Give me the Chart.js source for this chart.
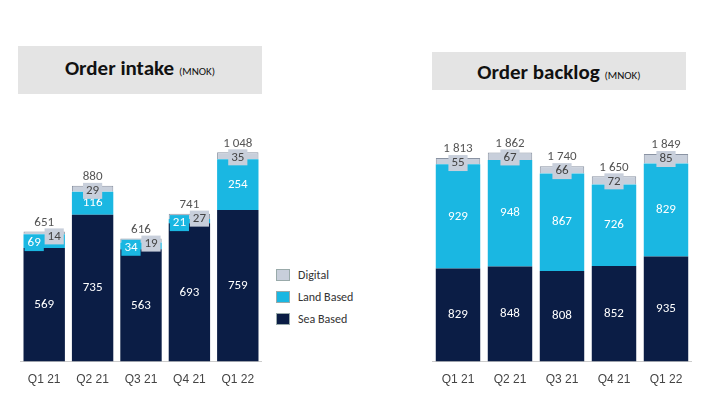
<!DOCTYPE html>
<html>
<head>
<meta charset="UTF-8">
<script src="https://cdn.jsdelivr.net/npm/chart.js"></script>
<style>
  body { margin:0; width:706px; height:404px; background:#fff; font-family:Calibri,'Open Sans',sans-serif; position:relative; overflow:hidden; }
  .title { position:absolute; background:#e4e4e4; color:#111; font-weight:bold; font-size:21px; text-align:center; line-height:44px; }
  .title small { font-size:11px; font-weight:normal; }
  .wrap { position:absolute; }
  .legend { position:absolute; left:276px; top:264px; font-size:12px; color:#333; }
  .legend div { height:22px; display:flex; align-items:center; }
  .legend span { width:14px; height:12px; margin-right:8px; border:1px solid #9aa; box-sizing:border-box; }
</style>
</head>
<body>
<div class="title" style="left:18px;top:46px;width:244px;">Order intake <small>(MNOK)</small></div>
<div class="title" style="left:432px;top:52px;width:254px;height:38px;line-height:40px;">Order backlog <small>(MNOK)</small></div>
<div class="wrap" style="left:20px;top:100px;width:242px;height:290px;"><canvas id="intake"></canvas></div>
<div class="wrap" style="left:432px;top:100px;width:260px;height:290px;"><canvas id="backlog"></canvas></div>
<div class="legend">
  <div><span style="background:#c8cfdb"></span>Digital</div>
  <div><span style="background:#1ab7e2"></span>Land Based</div>
  <div><span style="background:#0b1d45"></span>Sea Based</div>
</div>
<script>
const quarters = ['Q1 21', 'Q2 21', 'Q3 21', 'Q4 21', 'Q1 22'];
const intakeSea = [569, 735, 563, 693, 759];
const intakeLand = [69, 116, 34, 21, 254];
const intakeDigital = [14, 29, 19, 27, 35];
const intakeTotal = [651, 880, 616, 741, 1048];
const backlogSea = [829, 848, 808, 852, 935];
const backlogLand = [929, 948, 867, 726, 829];
const backlogDigital = [55, 67, 66, 72, 85];
const backlogTotal = [1813, 1862, 1740, 1650, 1849];

const colors = ['#0b1d45', '#1ab7e2', '#c8cfdb'];
const fmt = v => String(v).replace(/\B(?=(\d{3})+(?!\d))/g, ' ');

const labelPlugin = {
  id: 'labels',
  afterDatasetsDraw(chart, args, opts) {
    const ctx = chart.ctx;
    ctx.save();
    ctx.font = '13px Calibri, "Open Sans", sans-serif';
    ctx.textAlign = 'center';
    ctx.textBaseline = 'middle';
    const box = (x, y, txt, fill, color) => {
      const w = ctx.measureText(txt).width + 6;
      ctx.fillStyle = fill;
      ctx.fillRect(x - w / 2, y - 8, w, 16);
      ctx.fillStyle = color;
      ctx.fillText(txt, x, y);
    };
    const metas = [0, 1, 2].map(i => chart.getDatasetMeta(i));
    quarters.forEach((q, j) => {
      const sea = metas[0].data[j], land = metas[1].data[j], dig = metas[2].data[j];
      ctx.fillStyle = '#fff';
      ctx.fillText(chart.data.datasets[0].data[j], sea.x, (sea.y + sea.base) / 2);
      const landH = land.base - land.y;
      if (landH < 22) {
        box(land.x - 10, (land.y + land.base) / 2 + 2, String(chart.data.datasets[1].data[j]), colors[1], '#fff');
        box(dig.x + 10, dig.y + 5, String(chart.data.datasets[2].data[j]), colors[2], '#444');
      } else {
        ctx.fillStyle = '#fff';
        ctx.fillText(chart.data.datasets[1].data[j], land.x, (land.y + land.base) / 2);
        box(dig.x, dig.y + 5, String(chart.data.datasets[2].data[j]), colors[2], '#444');
      }
      ctx.fillStyle = '#555';
      ctx.fillText(fmt(opts.totals[j]), dig.x, dig.y - 9);
    });
    ctx.restore();
  }
};

function makeChart(id, sea, land, dig, totals, max) {
  new Chart(document.getElementById(id), {
    type: 'bar',
    data: {
      labels: quarters,
      datasets: [sea, land, dig].map((d, i) => ({
        data: d, backgroundColor: colors[i], borderColor: '#8a93a3',
        borderWidth: i === 2 ? 1 : 0, barPercentage: 0.9, categoryPercentage: 0.95
      }))
    },
    options: {
      responsive: true, maintainAspectRatio: false, animation: false,
      plugins: { legend: { display: false }, tooltip: { enabled: false }, labels: { totals } },
      scales: {
        x: { stacked: true, grid: { display: false }, border: { color: '#ccc' },
             ticks: { color: '#444', font: { size: 12 } } },
        y: { stacked: true, display: false, min: 0, max }
      }
    },
    plugins: [labelPlugin]
  });
}
makeChart('intake', intakeSea, intakeLand, intakeDigital, intakeTotal, 1310);
makeChart('backlog', backlogSea, backlogLand, backlogDigital, backlogTotal, 2330);
</script>
</body>
</html>
